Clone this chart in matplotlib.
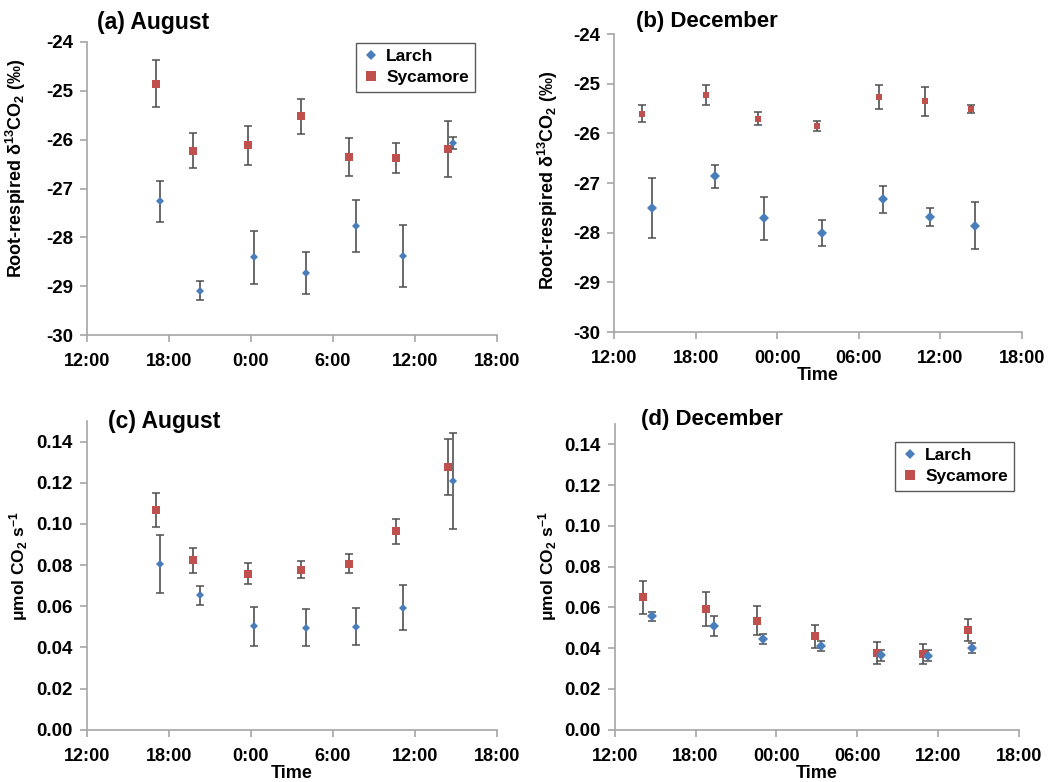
import matplotlib
matplotlib.use("Agg")
import matplotlib.pyplot as plt
from matplotlib.lines import Line2D

plt.rcParams['font.family'] = ['Liberation Sans', 'DejaVu Sans']
plt.rcParams['font.weight'] = 'bold'
plt.rcParams['mathtext.default'] = 'regular'

# time in hours after 12:00 on the first day
# (a) August, delta13C
a_syc_t = [5.03, 7.74, 11.75, 15.66, 19.18, 22.62, 26.39]
a_syc_v = [-24.85, -26.23, -26.11, -25.52, -26.36, -26.37, -26.19]
a_syc_e = [0.48, 0.36, 0.40, 0.36, 0.39, 0.31, 0.58]
a_lar_t = [5.35, 8.26, 12.22, 16.0, 19.69, 23.16, 26.78]
a_lar_v = [-27.26, -29.09, -28.41, -28.73, -27.77, -28.38, -26.07]
a_lar_e = [0.42, 0.20, 0.54, 0.43, 0.54, 0.63, 0.12]

# (b) December, delta13C
b_syc_t = [2.08, 6.76, 10.60, 14.94, 19.47, 22.90, 26.23]
b_syc_v = [-25.60, -25.23, -25.70, -25.86, -25.27, -25.35, -25.51]
b_syc_e = [0.17, 0.20, 0.13, 0.10, 0.24, 0.29, 0.08]
b_lar_t = [2.82, 7.42, 11.05, 15.28, 19.79, 23.27, 26.55]
b_lar_v = [-27.50, -26.86, -27.71, -28.01, -27.33, -27.69, -27.86]
b_lar_e = [0.60, 0.23, 0.43, 0.26, 0.27, 0.18, 0.47]

# (c) August, flux
c_syc_t = a_syc_t
c_syc_v = [0.1068, 0.0822, 0.0758, 0.0778, 0.0807, 0.0963, 0.1277]
c_syc_e = [0.0082, 0.0062, 0.0050, 0.0043, 0.0047, 0.0061, 0.0135]
c_lar_t = a_lar_t
c_lar_v = [0.0804, 0.0653, 0.0502, 0.0496, 0.0501, 0.0593, 0.1207]
c_lar_e = [0.0140, 0.0047, 0.0094, 0.0088, 0.0088, 0.0111, 0.0234]

# (d) December, flux
d_syc_t = [2.08, 6.76, 10.59, 14.90, 19.48, 22.90, 26.21]
d_syc_v = [0.0649, 0.0592, 0.0535, 0.0458, 0.0375, 0.0371, 0.0489]
d_syc_e = [0.0080, 0.0083, 0.0070, 0.0057, 0.0053, 0.0048, 0.0054]
d_lar_t = [2.80, 7.40, 11.04, 15.30, 19.78, 23.24, 26.56]
d_lar_v = [0.0556, 0.0509, 0.0445, 0.0409, 0.0365, 0.0363, 0.0402]
d_lar_e = [0.0023, 0.0049, 0.0026, 0.0024, 0.0026, 0.0026, 0.0025]

xticks = [0, 6, 12, 18, 24, 30]
xlab_aug = ["12:00", "18:00", "0:00", "6:00", "12:00", "18:00"]
xlab_dec = ["12:00", "18:00", "00:00", "06:00", "12:00", "18:00"]

blue = '#4A7EBB'
red = '#C0504D'
ecol = '#505050'

fig = plt.figure(figsize=(10.63, 7.82), dpi=100)
ax_a = fig.add_axes([0.0818, 0.5716, 0.3857, 0.3747])
ax_b = fig.add_axes([0.5776, 0.5754, 0.3838, 0.3810])
ax_c = fig.add_axes([0.0818, 0.0669, 0.3857, 0.3948])
ax_d = fig.add_axes([0.5783, 0.0669, 0.3800, 0.3910])


def draw(ax, st, sv, se, lt, lv, le, sq, dm):
    ax.errorbar(st, sv, yerr=se, fmt='none', ecolor=ecol, elinewidth=1.2,
                capsize=2.8, capthick=1.1, zorder=2)
    ax.errorbar(lt, lv, yerr=le, fmt='none', ecolor=ecol, elinewidth=1.2,
                capsize=2.8, capthick=1.1, zorder=2)
    ax.plot(st, sv, 's', color=red, markersize=sq, markeredgewidth=0, zorder=3)
    ax.plot(lt, lv, 'D', color=blue, markersize=dm, markeredgewidth=0, zorder=3)


draw(ax_a, a_syc_t, a_syc_v, a_syc_e, a_lar_t, a_lar_v, a_lar_e, 5.5, 4.0)
draw(ax_b, b_syc_t, b_syc_v, b_syc_e, b_lar_t, b_lar_v, b_lar_e, 4.2, 5.2)
draw(ax_c, c_syc_t, c_syc_v, c_syc_e, c_lar_t, c_lar_v, c_lar_e, 5.5, 4.0)
draw(ax_d, d_syc_t, d_syc_v, d_syc_e, d_lar_t, d_lar_v, d_lar_e, 6.0, 5.0)

for ax, xl in [(ax_a, xlab_aug), (ax_b, xlab_dec), (ax_c, xlab_aug), (ax_d, xlab_dec)]:
    ax.set_xlim(0, 30)
    ax.set_xticks(xticks)
    ax.set_xticklabels(xl)
    for s in ['top', 'right']:
        ax.spines[s].set_visible(False)
    for s in ['left', 'bottom']:
        ax.spines[s].set_color('#a6a6a6')
        ax.spines[s].set_linewidth(1.2)
    ax.tick_params(axis='x', length=5, width=1.2, color='#a6a6a6',
                   labelsize=13, pad=8)
    ax.tick_params(axis='y', length=5, width=1.2, color='#a6a6a6',
                   labelsize=13.5, pad=5)

for ax in [ax_a, ax_b]:
    ax.set_ylim(-30, -24)
    ax.set_yticks(range(-30, -23))
    ax.set_yticklabels([str(v) for v in range(-30, -23)])
    ax.set_ylabel(r"Root-respired δ$^{13}$CO$_2$ (‰)", fontsize=13, fontweight='bold')

for ax in [ax_c, ax_d]:
    ax.set_ylim(0, 0.15)
    yt = [0, 0.02, 0.04, 0.06, 0.08, 0.10, 0.12, 0.14]
    ax.set_yticks(yt)
    ax.set_yticklabels(["%.2f" % v for v in yt])
    ax.set_ylabel(r"μmol CO$_2$ s$^{-1}$", fontsize=12.5, fontweight='bold')

ax_a.yaxis.set_label_coords(-0.144, 0.57)
ax_b.yaxis.set_label_coords(-0.132, 0.51)
ax_c.yaxis.set_label_coords(-0.139, 0.53)
ax_d.yaxis.set_label_coords(-0.138, 0.536)

for ax in [ax_b, ax_c, ax_d]:
    ax.set_xlabel("Time", fontsize=13, fontweight='bold', labelpad=0)

fig.text(97 / 1063, 1 - 22 / 782, "(a) August", fontsize=16.5, fontweight='bold', va='center')
fig.text(636 / 1063, 1 - 22 / 782, "(b) December", fontsize=16, fontweight='bold', va='center')
fig.text(108 / 1063, 1 - 422 / 782, "(c) August", fontsize=16.5, fontweight='bold', va='center')
fig.text(641 / 1063, 1 - 420 / 782, "(d) December", fontsize=16, fontweight='bold', va='center')

handles = [Line2D([], [], marker='D', color=blue, linestyle='none', markersize=5, markeredgewidth=0),
           Line2D([], [], marker='s', color=red, linestyle='none', markersize=6.5, markeredgewidth=0)]

for ax, bbox in [(ax_a, (362, 43, 475, 91)), (ax_d, (893, 442, 1014, 493))]:
    x0, y0, x1, y1 = bbox
    leg = fig.legend(handles, ["Larch", "Sycamore"], loc='upper right',
                     bbox_to_anchor=(x1 / 1063, 1 - y0 / 782),
                     prop={'weight': 'bold', 'size': 12.5}, frameon=True,
                     fancybox=False, edgecolor='#303030', handlelength=1.0,
                     handletextpad=0.4, borderpad=0.35, labelspacing=0.35,
                     borderaxespad=0)
    leg.get_frame().set_linewidth(1.0)

fig.savefig("out.png", dpi=100)
